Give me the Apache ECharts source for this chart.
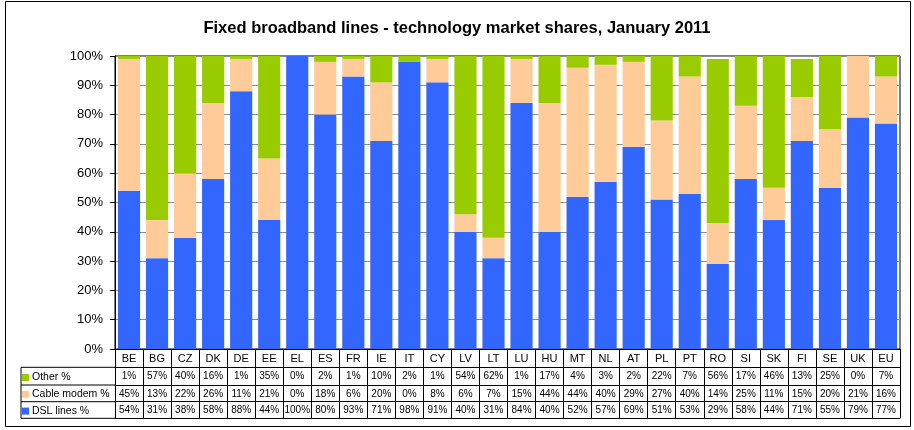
<!DOCTYPE html>
<html>
<head>
<meta charset="utf-8">
<script src="https://cdn.jsdelivr.net/npm/echarts@6/dist/echarts.min.js"></script>
<style>
html,body{margin:0;padding:0;background:#fff;}
#chart{width:914px;height:430px;}
</style>
</head>
<body>
<div id="chart"></div>
<script>
var categories = ['BE','BG','CZ','DK','DE','EE','EL','ES','FR','IE','IT','CY','LV','LT','LU','HU','MT','NL','AT','PL','PT','RO','SI','SK','FI','SE','UK','EU'];
var otherVals = [1,57,40,16,1,35,0,2,1,10,2,1,54,62,1,17,4,3,2,22,7,56,17,46,13,25,0,7];
var cableVals = [45,13,22,26,11,21,0,18,6,20,0,8,6,7,15,44,44,40,29,27,40,14,25,11,15,20,21,16];
var dslVals = [54,31,38,58,88,44,100,80,93,71,98,91,40,31,84,40,52,57,69,51,53,29,58,44,71,55,79,77];
var yTicks = [0,10,20,30,40,50,60,70,80,90,100];

var FONT = '"Liberation Sans", Arial, sans-serif';
var C_DSL = '#3366FF', C_CABLE = '#FFCC99', C_OTHER = '#99CC00';

function rowAxis(offset, vals, showLabel) {
  return {
    type: 'category', data: categories, gridIndex: 0, position: 'bottom', offset: offset,
    axisLine: {show: true, lineStyle: {color: '#000', width: 1}},
    axisTick: {show: false},
    axisLabel: {show: showLabel, interval: 0, margin: 4, fontFamily: FONT, fontSize: 10, color: '#000',
      formatter: function (v, i) { return vals ? vals[i] + '%' : ''; }},
    splitLine: {show: false}
  };
}

var chart = echarts.init(document.getElementById('chart'), null, {renderer: 'canvas'});
var option = {
  backgroundColor: '#fff',
  animation: false,
  title: {
    text: 'Fixed broadband lines - technology market shares, January 2011',
    left: 'center', top: 15,
    textStyle: {fontFamily: FONT, fontSize: 16.5, fontWeight: 'bold', color: '#000'}
  },
  legend: {
    orient: 'vertical', left: 17, top: 367, itemWidth: 7, itemHeight: 7, itemGap: 5.8,
    icon: 'rect', selectedMode: false,
    textStyle: {fontFamily: FONT, fontSize: 10.5, color: '#000', padding: [0, 0, 0, -2]},
    data: ['Other %', 'Cable modem %', 'DSL lines %']
  },
  grid: {left: 115, right: 14, top: 56, bottom: 81, show: true, borderColor: '#000', borderWidth: 1, backgroundColor: '#fff'},
  xAxis: [
    {
      type: 'category', data: categories, position: 'bottom',
      axisLine: {show: true, lineStyle: {color: '#000'}},
      axisTick: {show: true, interval: 0, length: 69, lineStyle: {color: '#000'}},
      axisLabel: {interval: 0, margin: 4, fontFamily: FONT, fontSize: 11, color: '#000'},
      splitLine: {show: false}
    },
    rowAxis(18.3, otherVals, true),
    rowAxis(36, cableVals, true),
    rowAxis(52.7, dslVals, true),
    rowAxis(69.3, null, false)
  ],
  yAxis: {
    type: 'value', min: yTicks[0], max: yTicks[yTicks.length - 1], interval: 10,
    axisLine: {show: true, lineStyle: {color: '#000'}},
    axisTick: {show: true, length: 5, lineStyle: {color: '#000'}},
    axisLabel: {fontFamily: FONT, fontSize: 13, color: '#000', margin: 12, formatter: '{value}%'},
    splitLine: {show: true, lineStyle: {color: '#8c8c8c', width: 1}}
  },
  series: [
    {name: 'DSL lines %', type: 'bar', stack: 's', data: dslVals, barCategoryGap: '21%', itemStyle: {color: C_DSL}, xAxisIndex: 0},
    {name: 'Cable modem %', type: 'bar', stack: 's', data: cableVals, barCategoryGap: '21%', itemStyle: {color: C_CABLE}, xAxisIndex: 0},
    {name: 'Other %', type: 'bar', stack: 's', data: otherVals, barCategoryGap: '21%', itemStyle: {color: C_OTHER}, xAxisIndex: 0}
  ],
  graphic: [
    {type: 'rect', shape: {x: 5.5, y: 1.5, width: 905, height: 425}, style: {fill: null, stroke: '#000', lineWidth: 1}, silent: true, z: 100},
    {type: 'line', shape: {x1: 21, y1: 367.3, x2: 21, y2: 418.3}, style: {stroke: '#000', lineWidth: 1}, z: 100},
    {type: 'line', shape: {x1: 21, y1: 367.3, x2: 115, y2: 367.3}, style: {stroke: '#000', lineWidth: 1}, z: 100},
    {type: 'line', shape: {x1: 21, y1: 385, x2: 115, y2: 385}, style: {stroke: '#000', lineWidth: 1}, z: 100},
    {type: 'line', shape: {x1: 21, y1: 401.7, x2: 115, y2: 401.7}, style: {stroke: '#000', lineWidth: 1}, z: 100},
    {type: 'line', shape: {x1: 21, y1: 418.3, x2: 115, y2: 418.3}, style: {stroke: '#000', lineWidth: 1}, z: 100}
  ]
};
chart.setOption(option);
</script>
</body>
</html>
